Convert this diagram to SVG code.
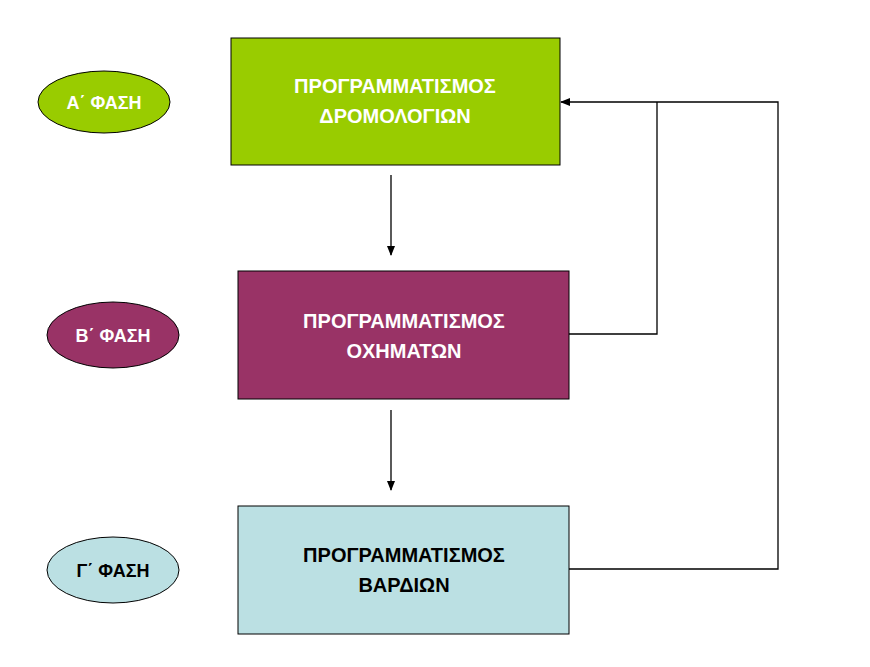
<svg xmlns="http://www.w3.org/2000/svg" width="870" height="667" viewBox="0 0 870 667">
<style>
.b{stroke:#000;stroke-width:1}
.t{font-family:"Liberation Sans",Arial,sans-serif;font-weight:bold;font-size:20px;text-anchor:middle}
.e{font-family:"Liberation Sans",Arial,sans-serif;font-weight:bold;font-size:18px;text-anchor:middle}
.c{fill:none;stroke:#000;stroke-width:1.3}
</style>
<defs><marker id="a" markerWidth="10" markerHeight="8" refX="9" refY="4" orient="auto" markerUnits="userSpaceOnUse"><path d="M0,0L10,4L0,8z" fill="#000"/></marker></defs>
<rect width="870" height="667" fill="#fff"/>
<g id="n1"><rect class="b" x="231" y="38" width="329" height="127" fill="#99CC00"/><text class="t" x="395" y="93" fill="#fff">ΠΡΟΓΡΑΜΜΑΤΙΣΜΟΣ</text><text class="t" x="395" y="123" fill="#fff">ΔΡΟΜΟΛΟΓΙΩΝ</text></g>
<g id="n2"><rect class="b" x="238" y="271" width="331" height="128" fill="#993366"/><text class="t" x="404" y="328" fill="#fff">ΠΡΟΓΡΑΜΜΑΤΙΣΜΟΣ</text><text class="t" x="404" y="358" fill="#fff">ΟΧΗΜΑΤΩΝ</text></g>
<g id="n3"><rect class="b" x="238" y="506" width="331" height="128" fill="#BBE0E3"/><text class="t" x="404" y="562" fill="#000">ΠΡΟΓΡΑΜΜΑΤΙΣΜΟΣ</text><text class="t" x="404" y="592" fill="#000">ΒΑΡΔΙΩΝ</text></g>
<g id="p1"><ellipse class="b" cx="104" cy="102" rx="66" ry="31" fill="#99CC00"/><text class="e" x="104" y="109" fill="#fff">Α΄ ΦΑΣΗ</text></g>
<g id="p2"><ellipse class="b" cx="113" cy="335" rx="66" ry="33" fill="#993366"/><text class="e" x="113" y="342" fill="#fff">Β΄ ΦΑΣΗ</text></g>
<g id="p3"><ellipse class="b" cx="113" cy="570" rx="66" ry="33" fill="#BBE0E3"/><text class="e" x="113" y="577" fill="#000">Γ΄ ΦΑΣΗ</text></g>
<g id="connectors">
<path class="c" d="M391,175V255" marker-end="url(#a)"/>
<path class="c" d="M391,410V490" marker-end="url(#a)"/>
<path class="c" d="M569,334H657V102"/>
<path class="c" d="M569,569H778V102H561" marker-end="url(#a)"/>
</g>
</svg>
